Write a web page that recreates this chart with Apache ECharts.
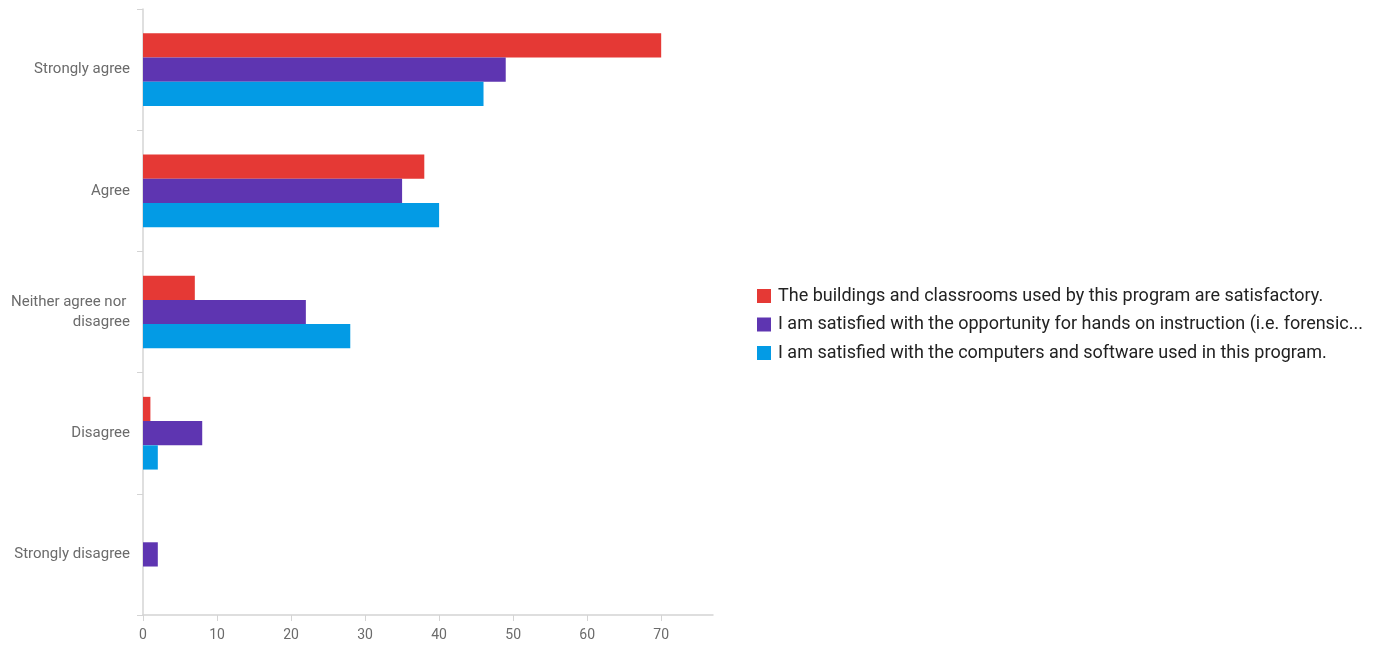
<!DOCTYPE html>
<html>
<head>
<meta charset="utf-8">
<title>Satisfaction survey</title>
<script src="https://cdn.jsdelivr.net/npm/echarts@6/dist/echarts.min.js"></script>
<style>
  html, body { margin: 0; padding: 0; background: #fff; }
  #chart { width: 1397px; height: 646px; }
</style>
</head>
<body>
<div id="chart"></div>
<script>
// Response levels, top to bottom
const categories = [
  'Strongly agree',
  'Agree',
  'Neither agree nor disagree',
  'Disagree',
  'Strongly disagree'
];

const seriesNames = [
  'The buildings and classrooms used by this program are satisfactory.',
  'I am satisfied with the opportunity for hands on instruction (i.e. forensic...',
  'I am satisfied with the computers and software used in this program.'
];

// Counts per response level, same order as categories
const buildingsValues = [70, 38, 7, 1, 0];
const handsOnValues   = [49, 35, 22, 8, 2];
const computersValues = [46, 40, 28, 2, 0];

const xTicks = [0, 10, 20, 30, 40, 50, 60, 70];

const colors = ['#E53935', '#5E35B1', '#039BE5'];
const valueSets = [buildingsValues, handsOnValues, computersValues];

const chart = echarts.init(document.getElementById('chart'), null, { renderer: 'canvas' });

const labelFont = 'Roboto, "Noto Sans", sans-serif';

chart.setOption({
  animation: false,
  color: colors,
  grid: { left: 143, right: 684, top: 9, bottom: 31, containLabel: false },
  legend: {
    orient: 'vertical',
    left: 752,
    top: 282,
    itemWidth: 14,
    itemHeight: 14,
    itemGap: 10.5,
    icon: 'rect',
    textStyle: { fontSize: 18, lineHeight: 18, color: '#222', fontFamily: labelFont, padding: [0, 0, 0, 2] },
    data: seriesNames
  },
  xAxis: {
    type: 'value',
    min: xTicks[0],
    max: 77,
    interval: 10,
    splitLine: { show: false },
    axisLine: { show: true, lineStyle: { color: '#d4d4d4', width: 1.5 } },
    axisTick: { show: true, length: 6, lineStyle: { color: '#d4d4d4' } },
    axisLabel: {
      color: '#6b6b6b', fontSize: 14, fontFamily: labelFont, margin: 13,
      showMaxLabel: false,
      formatter: v => (xTicks.indexOf(v) >= 0 ? String(v) : '')
    }
  },
  yAxis: {
    type: 'category',
    inverse: true,
    data: categories,
    axisLine: { show: true, lineStyle: { color: '#d4d4d4', width: 1.5 } },
    axisTick: { show: true, length: 6, lineStyle: { color: '#d4d4d4' } },
    axisLabel: {
      color: '#6b6b6b', fontSize: 15, fontFamily: labelFont, margin: 13,
      width: 125, overflow: 'break', lineHeight: 20, align: 'right'
    }
  },
  series: valueSets.map((vals, i) => ({
    name: seriesNames[i],
    type: 'bar',
    data: vals,
    barGap: '0%',
    barCategoryGap: '40%'
  }))
});
</script>
</body>
</html>
